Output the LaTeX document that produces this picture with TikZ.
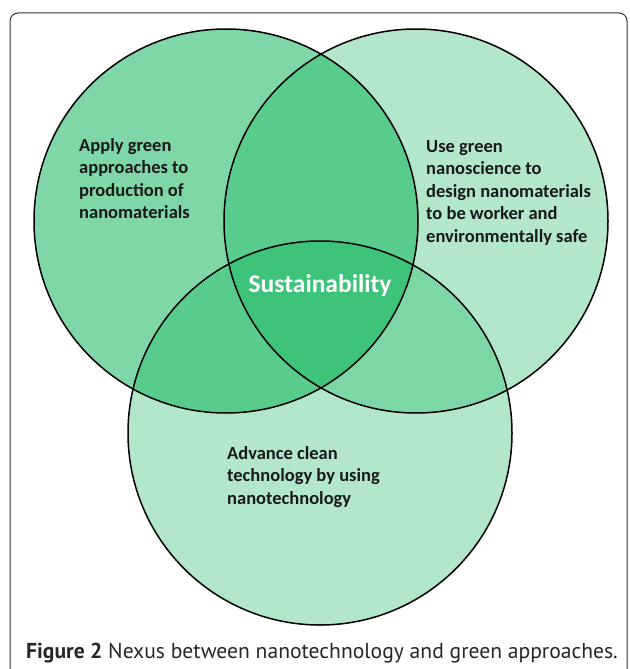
\documentclass[tikz,border=0pt]{standalone}
\usepackage{fontspec}
\setmainfont{Carlito}
\newfontfamily\capfont{PT Sans}
\usepackage{xcolor}
\usepackage{tikz}
\usetikzlibrary{positioning}
\definecolor{nexusgreen}{HTML}{00B050}

\begin{document}
\begin{tikzpicture}[x=1pt, y=-1pt,
    ring/.style={circle, minimum size=384pt, inner sep=0pt, fill=nexusgreen},
    outline/.style={line width=1.5pt, draw=black},
    lbl/.style={anchor=north west, align=left, inner sep=0pt, text=black!90, font=\bfseries\fontsize{18.5}{22.5}\selectfont},
    centrelbl/.style={inner sep=0pt, text=white, font=\bfseries\fontsize{25.5}{28}\selectfont}]

    \useasboundingbox (0,0) rectangle (629,669);
    \draw [rounded corners=8pt, line width=1pt, draw=black!80] (10,13) rectangle (627,680);

    % the three sets
    \node [ring, fill opacity=0.5] (apply) at (226,221) {};
    \node [ring, fill opacity=0.3] (design) at (416,221) {};
    \node [ring, fill opacity=0.3] (advance) at (320,433) {};
    \foreach \c in {apply, design, advance}
        \draw [outline] (\c) circle (192pt);

    \node [lbl] (applytext) at (79,138) {Apply green\\approaches to\\production of\\nanomaterials};
    \node [lbl] (designtext) at (426,140) {Use green\\nanoscience to\\design nanomaterials\\to be worker and\\environmentally safe};
    \node [lbl] (advancetext) at (227,446) {Advance clean\\technology by using\\nanotechnology};
    \node [centrelbl] (sustain) at (320,286) {Sustainability};

    \node [anchor=base west, inner sep=0pt, text=black!85, font=\capfont\fontsize{21.6}{25}\selectfont] (caption) at (26,658)
        {\textbf{Figure 2} Nexus between nanotechnology and green approaches.};
\end{tikzpicture}
\end{document}
